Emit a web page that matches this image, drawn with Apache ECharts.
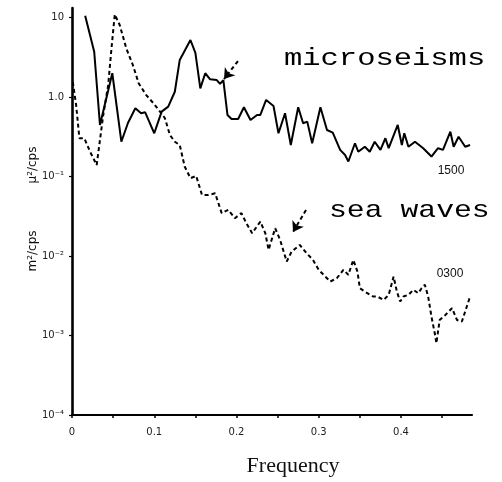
<!DOCTYPE html>
<html>
<head>
<meta charset="utf-8">
<script src="https://cdn.jsdelivr.net/npm/echarts@6/dist/echarts.min.js"></script>
<style>
  html, body { margin: 0; padding: 0; background: #fff; }
  #chart { width: 502px; height: 482px; }
</style>
</head>
<body>
<div id="chart"></div>
<script>
// Microseism spectrum (recorded 1500), μ²/cps
const freqMicro = [
  0.016, 0.027, 0.034, 0.049, 0.060, 0.068, 0.077, 0.084, 0.089, 0.100,
  0.109, 0.117, 0.125, 0.131, 0.144, 0.150, 0.156, 0.162, 0.168, 0.176,
  0.180, 0.184, 0.189, 0.194, 0.202, 0.209, 0.217, 0.225, 0.229, 0.236,
  0.245, 0.251, 0.259, 0.266, 0.275, 0.281, 0.286, 0.292, 0.302, 0.310,
  0.317, 0.326, 0.332, 0.336, 0.344, 0.348, 0.356, 0.362, 0.368, 0.375,
  0.381, 0.385, 0.396, 0.401, 0.404, 0.409, 0.417, 0.427, 0.437, 0.445,
  0.451, 0.460, 0.464, 0.470, 0.478, 0.484
];
const powerMicro = [
  10.6, 3.73, 0.447, 2.0, 0.275, 0.473, 0.725, 0.627, 0.645, 0.351,
  0.658, 0.760, 1.17, 2.94, 5.24, 3.6, 1.29, 2.0, 1.68, 1.64,
  1.47, 1.64, 0.597, 0.532, 0.532, 0.746, 0.516, 0.597, 0.597, 0.922,
  0.774, 0.351, 0.627, 0.25, 0.746, 0.47, 0.492, 0.263, 0.746, 0.386,
  0.357, 0.217, 0.187, 0.155, 0.263, 0.206, 0.238, 0.206, 0.275, 0.217,
  0.304, 0.228, 0.447, 0.25, 0.351, 0.238, 0.275, 0.228, 0.179, 0.228,
  0.217, 0.368, 0.238, 0.318, 0.238, 0.25
];

// Sea-wave spectrum (recorded 0300), m²/cps
const freqSea = [
  0.001, 0.005, 0.009, 0.015, 0.022, 0.030, 0.038, 0.044, 0.048, 0.052,
  0.058, 0.066, 0.074, 0.081, 0.090, 0.099, 0.107, 0.113, 0.119, 0.125,
  0.131, 0.137, 0.144, 0.151, 0.158, 0.166, 0.174, 0.182, 0.190, 0.198,
  0.206, 0.212, 0.219, 0.229, 0.235, 0.239, 0.247, 0.253, 0.261, 0.267,
  0.277, 0.285, 0.293, 0.300, 0.308, 0.314, 0.322, 0.330, 0.336, 0.342,
  0.347, 0.350, 0.356, 0.366, 0.371, 0.379, 0.385, 0.391, 0.395, 0.399,
  0.403, 0.409, 0.415, 0.421, 0.425, 0.429, 0.433, 0.437, 0.441, 0.443,
  0.447, 0.454, 0.462, 0.468, 0.474, 0.480, 0.484
];
const powerSea = [
  1.55, 0.798, 0.304, 0.304, 0.206, 0.14, 0.597, 1.42, 4.12, 11.0,
  8.1, 4.12, 2.54, 1.5, 1.07, 0.838, 0.658, 0.543, 0.335, 0.275,
  0.25, 0.134, 0.0955, 0.102, 0.0589, 0.0589, 0.0618, 0.0347, 0.0381, 0.030,
  0.0347, 0.0259, 0.0194, 0.0272, 0.0194, 0.012, 0.0224, 0.016, 0.00853, 0.0114,
  0.0138, 0.0109, 0.00895, 0.0067, 0.00552, 0.00478, 0.00527, 0.0067, 0.00581, 0.00895,
  0.00638, 0.00394, 0.00357, 0.0031, 0.0031, 0.00281, 0.00325, 0.00552, 0.00357, 0.00268,
  0.0031, 0.00325, 0.00376, 0.00341, 0.00394, 0.00435, 0.0031, 0.00173, 0.00107, 0.0008,
  0.00157, 0.00182, 0.00221, 0.00157, 0.0015, 0.00232, 0.0031
];

// Axis ticks and labels
const xTickValues = [0, 0.05, 0.1, 0.15, 0.2, 0.25, 0.3, 0.35, 0.4, 0.45];
const xLabelValues = [0, 0.1, 0.2, 0.3, 0.4];
const xTickLabels = ['0', '0.1', '0.2', '0.3', '0.4'];
const yTickValues = [1e-4, 1e-3, 1e-2, 1e-1, 1, 10];
const yTickLabels = ['10\u207B\u2074', '10\u207B\u00B3', '10\u207B\u00B2', '10\u207B\u00B9', '1.0', '10'];

// Pointer arrows (start, tip) in data units
const microArrow = [[0.2018, 2.85], [0.1848, 1.69]];
const seaArrow = [[0.2845, 0.038], [0.2687, 0.0201]];

const pairs = (xs, ys) => xs.map((x, i) => [x, ys[i]]);
const near = (a, b) => Math.abs(a - b) < 1e-6;

const chart = echarts.init(document.getElementById('chart'), null, { renderer: 'canvas' });

const arrowLine = (pts) => ({
  silent: true,
  symbol: ['none', 'arrow'],
  symbolSize: 10,
  label: { show: false },
  itemStyle: { color: '#000' },
  lineStyle: { color: '#000', width: 2, type: [4, 3] },
  animation: false,
  data: [[{ coord: pts[0] }, { coord: pts[1] }]]
});

chart.setOption({
  animation: false,
  backgroundColor: '#fff',
  grid: { left: 72, right: 30, top: 8, bottom: 67, containLabel: false },
  xAxis: {
    type: 'value',
    min: 0,
    max: 0.4863,
    axisLine: { show: true, lineStyle: { color: '#000', width: 2.2 } },
    axisTick: { show: true, customValues: xTickValues, length: 3, lineStyle: { color: '#000', width: 1.5 } },
    axisLabel: {
      customValues: xLabelValues,
      formatter: (v) => {
        const i = xLabelValues.findIndex(t => near(t, v));
        return i >= 0 ? xTickLabels[i] : '';
      },
      color: '#222', fontSize: 10, fontFamily: 'DejaVu Sans', margin: 12
    },
    splitLine: { show: false }
  },
  yAxis: {
    type: 'log',
    logBase: 10,
    min: 1e-4,
    max: 13.25,
    axisLine: { show: true, lineStyle: { color: '#000', width: 2.6 } },
    axisTick: { show: true, customValues: yTickValues, length: 3, lineStyle: { color: '#000', width: 1.2 } },
    axisLabel: {
      customValues: yTickValues,
      formatter: (v) => {
        const i = yTickValues.findIndex(t => Math.abs(Math.log10(t) - Math.log10(v)) < 1e-6);
        return i >= 0 ? yTickLabels[i] : '';
      },
      color: '#222', fontSize: 10, fontFamily: 'DejaVu Sans', margin: 8
    },
    splitLine: { show: false },
    minorTick: { show: false }
  },
  series: [
    {
      name: 'microseisms',
      type: 'line',
      data: pairs(freqMicro, powerMicro),
      showSymbol: false,
      symbol: 'none',
      lineStyle: { color: '#000', width: 2 },
      markLine: arrowLine(microArrow)
    },
    {
      name: 'sea waves',
      type: 'line',
      data: pairs(freqSea, powerSea),
      showSymbol: false,
      symbol: 'none',
      lineStyle: { color: '#000', width: 2, type: [4, 3] },
      markLine: arrowLine(seaArrow)
    }
  ],
  graphic: [
    {
      type: 'text', x: 284, y: 59, scaleX: 1.27,
      style: { text: 'microseisms', fill: '#000', font: '24px "Liberation Mono"', textAlign: 'left', textVerticalAlign: 'middle' }
    },
    {
      type: 'text', x: 329, y: 211, scaleX: 1.24,
      style: { text: 'sea waves', fill: '#000', font: '24px "Liberation Mono"', textAlign: 'left', textVerticalAlign: 'middle' }
    },
    {
      type: 'text', x: 451, y: 171,
      style: { text: '1500', fill: '#111', font: '12px "Liberation Sans"', textAlign: 'center', textVerticalAlign: 'middle' }
    },
    {
      type: 'text', x: 450, y: 274,
      style: { text: '0300', fill: '#111', font: '12px "Liberation Sans"', textAlign: 'center', textVerticalAlign: 'middle' }
    },
    {
      type: 'text', x: 293, y: 466,
      style: { text: 'Frequency', fill: '#111', font: '22px "Liberation Serif"', textAlign: 'center', textVerticalAlign: 'middle' }
    },
    {
      type: 'text', x: 33, y: 251, rotation: Math.PI / 2,
      style: { text: 'm\u00B2/cps', fill: '#111', font: '12px "DejaVu Sans"', textAlign: 'center', textVerticalAlign: 'middle' }
    },
    {
      type: 'text', x: 33, y: 165, rotation: Math.PI / 2,
      style: { text: '\u03BC\u00B2/cps', fill: '#111', font: '12px "DejaVu Sans"', textAlign: 'center', textVerticalAlign: 'middle' }
    }
  ]
});
</script>
</body>
</html>
